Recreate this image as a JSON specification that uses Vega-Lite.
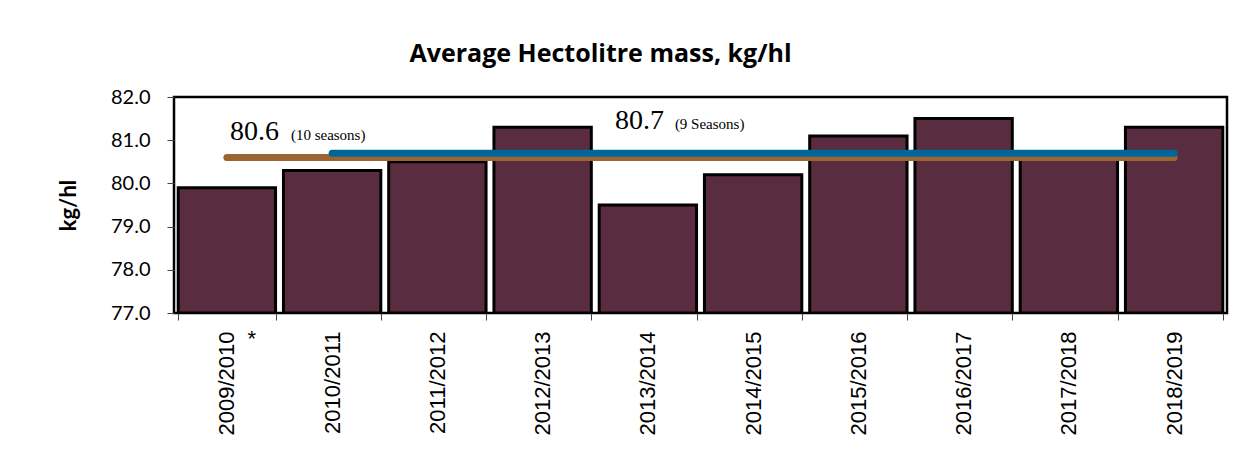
{
  "$schema": "https://vega.github.io/schema/vega-lite/v6.json",
  "autosize": {"type": "none"},
  "width": 1053,
  "height": 216,
  "padding": {"left": 174, "top": 97, "right": 33, "bottom": 151},
  "background": "white",
  "title": {
    "text": "Average Hectolitre mass, kg/hl",
    "font": "Open Sans",
    "fontSize": 25,
    "fontWeight": "bold",
    "color": "black",
    "anchor": "middle",
    "dx": -100,
    "offset": 20
  },
  "datasets": {
    "bars": [
      {"season": "2009/2010", "mass": 79.9},
      {"season": "2010/2011", "mass": 80.3},
      {"season": "2011/2012", "mass": 80.5},
      {"season": "2012/2013", "mass": 81.3},
      {"season": "2013/2014", "mass": 79.5},
      {"season": "2014/2015", "mass": 80.2},
      {"season": "2015/2016", "mass": 81.1},
      {"season": "2016/2017", "mass": 81.5},
      {"season": "2017/2018", "mass": 80.6},
      {"season": "2018/2019", "mass": 81.3}
    ],
    "avgs": [
      {"series": "10 seasons", "start": "2009/2010", "end": "2018/2019", "avg": 80.6},
      {"series": "9 seasons", "start": "2010/2011", "end": "2018/2019", "avg": 80.7}
    ]
  },
  "config": {
    "view": {"stroke": "black", "strokeWidth": 2.5},
    "axis": {"domain": false, "grid": false, "tickColor": "#444", "labelColor": "black", "titleColor": "black"}
  },
  "layer": [
    {
      "data": {"name": "bars"},
      "mark": {"type": "bar", "color": "#5a2c40", "stroke": "black", "strokeWidth": 3, "clip": true},
      "encoding": {
        "x": {
          "field": "season", "type": "nominal", "sort": null,
          "scale": {"paddingInner": 0.075, "paddingOuter": 0.04},
          "axis": {
            "title": null, "labelAngle": -90, "labelAlign": "right", "labelBaseline": "middle",
            "labelFont": "Liberation Sans", "labelFontSize": 22, "labelPadding": 11,
            "tickSize": 7, "tickBand": "extent"
          }
        },
        "y": {
          "field": "mass", "type": "quantitative",
          "scale": {"domain": [77, 82], "zero": false, "nice": false},
          "axis": {
            "title": "kg/hl", "titleFont": "Lato", "titleFontSize": 22, "titleFontWeight": "bold", "titlePadding": 30,
            "values": [77, 78, 79, 80, 81, 82], "format": ".1f",
            "labelFont": "Lato", "labelFontSize": 20, "labelPadding": 17, "tickSize": 7
          }
        },
        "y2": {"datum": 77}
      }
    },
    {
      "data": {"name": "avgs"},
      "mark": {"type": "rule", "strokeWidth": 7, "strokeCap": "round"},
      "encoding": {
        "x": {"field": "start", "type": "nominal"},
        "x2": {"field": "end"},
        "y": {"field": "avg", "type": "quantitative"},
        "color": {
          "field": "series", "type": "nominal",
          "scale": {"domain": ["10 seasons", "9 seasons"], "range": ["#9b6432", "#03669a"]},
          "legend": null
        }
      }
    },
    {
      "data": {"values": [{"season": "2009/2010", "y": 81.0, "t": "80.6"}]},
      "mark": {"type": "text", "font": "Liberation Serif", "fontSize": 28, "align": "left", "baseline": "alphabetic", "dx": 3, "color": "black"},
      "encoding": {"x": {"field": "season", "type": "nominal"}, "y": {"field": "y", "type": "quantitative"}, "text": {"field": "t"}}
    },
    {
      "data": {"values": [{"season": "2009/2010", "y": 81.0, "t": "(10 seasons)"}]},
      "mark": {"type": "text", "font": "Liberation Serif", "fontSize": 15, "align": "left", "baseline": "alphabetic", "dx": 64, "color": "black"},
      "encoding": {"x": {"field": "season", "type": "nominal"}, "y": {"field": "y", "type": "quantitative"}, "text": {"field": "t"}}
    },
    {
      "data": {"values": [{"season": "2013/2014", "y": 81.25, "t": "80.7"}]},
      "mark": {"type": "text", "font": "Liberation Serif", "fontSize": 28, "align": "left", "baseline": "alphabetic", "dx": -33, "color": "black"},
      "encoding": {"x": {"field": "season", "type": "nominal"}, "y": {"field": "y", "type": "quantitative"}, "text": {"field": "t"}}
    },
    {
      "data": {"values": [{"season": "2013/2014", "y": 81.25, "t": "(9 Seasons)"}]},
      "mark": {"type": "text", "font": "Liberation Serif", "fontSize": 15, "align": "left", "baseline": "alphabetic", "dx": 27, "color": "black"},
      "encoding": {"x": {"field": "season", "type": "nominal"}, "y": {"field": "y", "type": "quantitative"}, "text": {"field": "t"}}
    },
    {
      "data": {"values": [{"season": "2009/2010", "y": 77, "t": "*"}]},
      "mark": {"type": "text", "font": "Liberation Sans", "fontSize": 22, "align": "center", "baseline": "middle", "dx": 25, "dy": 26, "clip": false, "color": "black"},
      "encoding": {"x": {"field": "season", "type": "nominal"}, "y": {"field": "y", "type": "quantitative"}, "text": {"field": "t"}}
    }
  ]
}
